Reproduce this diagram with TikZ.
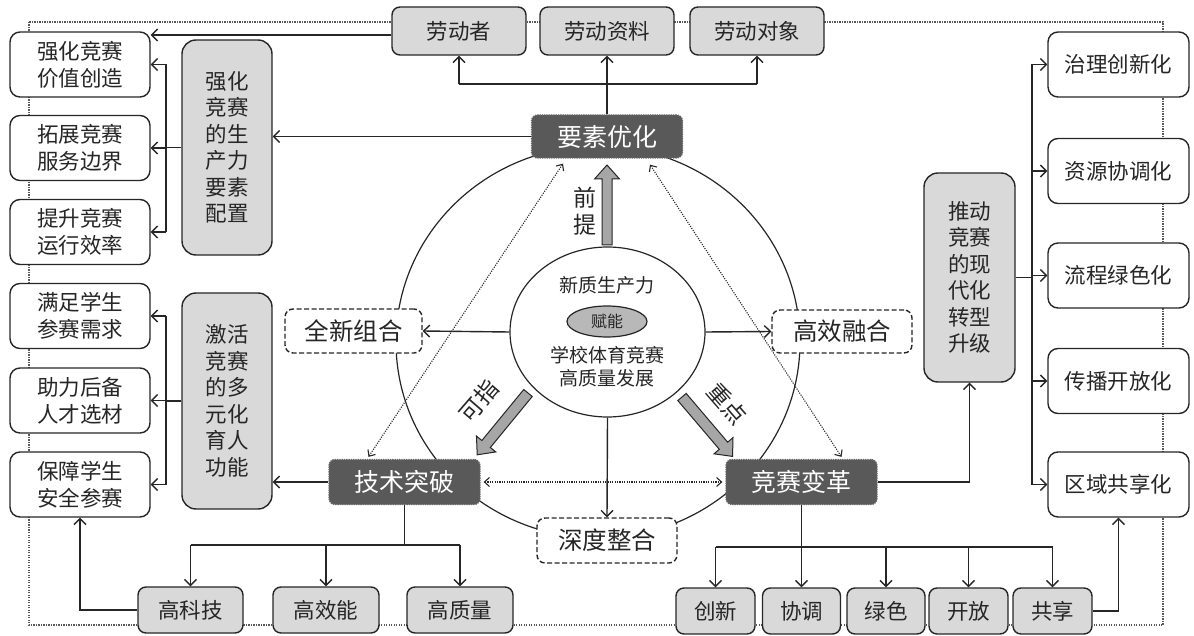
\documentclass[tikz,border=0pt]{standalone}
\usepackage{fontspec}
\newfontfamily\cjk{Noto Sans CJK SC}
\usetikzlibrary{arrows.meta,calc,shapes.geometric}
\definecolor{lg}{HTML}{D9D9D9}
\definecolor{dg}{HTML}{595959}
\definecolor{ag}{HTML}{A6A6A6}
\definecolor{ln}{HTML}{262626}
\begin{document}
\begin{tikzpicture}[x=1pt,y=-1pt,
 every node/.style={font=\cjk, text=ln},
 base/.style={draw=ln, line width=1.4pt, align=center, inner sep=0pt},
 wbox/.style={base, fill=white, rounded corners=10pt, font=\cjk\fontsize{21.5}{27}\selectfont},
 gbox/.style={base, fill=lg, rounded corners=14pt, font=\cjk\fontsize{21.5}{26.5}\selectfont},
 sbox/.style={base, fill=lg, rounded corners=8pt, font=\cjk\fontsize{21.5}{26}\selectfont},
 dbox/.style={draw=black!60, densely dotted, line width=1.3pt, fill=dg, text=white, rounded corners=6pt, font=\cjk\fontsize{25}{30}\selectfont, inner sep=0pt},
 dsh/.style={base, dash pattern=on 5pt off 2.5pt, fill=white, rounded corners=8pt, font=\cjk\fontsize{24.5}{30}\selectfont},
 lin/.style={draw=ln, line width=1.4pt},
 arr/.style={lin, -{Straight Barb[length=6pt,width=12pt]}},
 dotarr/.style={draw=ln, line width=1.1pt, dash pattern=on 1.1pt off 1.3pt, {Straight Barb[length=5pt,width=9pt]}-{Straight Barb[length=5pt,width=9pt]}},
 circ/.style={draw=ln, line width=1.2pt},
 barr/.style={draw=ln, line width=1pt, fill=ag, line join=miter},
 lab/.style={font=\cjk\fontsize{23}{27}\selectfont, align=center, inner sep=0pt}
]
\useasboundingbox (0,0) rectangle (1194,636);
% frame
\draw[draw=black!65, line width=1.3pt, dash pattern=on 1.2pt off 1.3pt] (29,22) rectangle (1163,625);
% outer ring
\draw[circ] (598,342) ellipse [x radius=202pt, y radius=196pt];

% top
\node[sbox, minimum width=134pt, minimum height=48pt] (ld) at (459,31) {劳动者};
\node[sbox, minimum width=134pt, minimum height=48pt] (lz) at (607,31) {劳动资料};
\node[sbox, minimum width=134pt, minimum height=48pt] (lo) at (757,31) {劳动对象};
\node[dbox, minimum width=151pt, minimum height=43pt] (ys) at (607,136.5) {要素优化};

% left
\node[wbox, minimum width=140pt, minimum height=65pt] (a1) at (80,64.5) {强化竞赛\\价值创造};
\node[wbox, minimum width=140pt, minimum height=65pt] (a2) at (80,148) {拓展竞赛\\服务边界};
\node[wbox, minimum width=140pt, minimum height=65pt] (a3) at (80,232) {提升竞赛\\运行效率};
\node[gbox, minimum width=90pt, minimum height=215pt] (ga) at (227,147.5) {强化\\竞赛\\的生\\产力\\要素\\配置};
\node[wbox, minimum width=140pt, minimum height=65pt] (b1) at (80,316) {满足学生\\参赛需求};
\node[wbox, minimum width=140pt, minimum height=65pt] (b2) at (80,400.5) {助力后备\\人才选材};
\node[wbox, minimum width=140pt, minimum height=65pt] (b3) at (80,484.5) {保障学生\\安全参赛};
\node[gbox, minimum width=90pt, minimum height=216pt] (gb) at (227,401) {激活\\竞赛\\的多\\元化\\育人\\功能};

% center
\node[ellipse, draw=ln, line width=1.2pt, fill=white, minimum width=195pt, minimum height=170pt, inner sep=0pt] (ce) at (607.5,332) {};
\node[font=\cjk\fontsize{19}{23}\selectfont, inner sep=0pt] (t1) at (607,285) {新质生产力};
\node[ellipse, draw=ln, line width=1.2pt, fill=ag!80, minimum width=80pt, minimum height=31pt, inner sep=0pt, font=\cjk\fontsize{16}{20}\selectfont] (fn) at (607,321.5) {赋能};
\node[font=\cjk\fontsize{19}{23}\selectfont, align=center, inner sep=0pt] (t2) at (607,366.5) {学校体育竞赛\\高质量发展};

\node[dsh, minimum width=137pt, minimum height=44pt] (qx) at (353.5,331) {全新组合};
\node[dsh, minimum width=140pt, minimum height=43pt] (gx) at (842,331.5) {高效融合};
\node[dsh, minimum width=140pt, minimum height=45pt] (sd) at (607,540.5) {深度整合};

\node[dbox, minimum width=151pt, minimum height=45pt] (jt) at (404.5,482) {技术突破};
\node[dbox, minimum width=151pt, minimum height=45pt] (jb) at (801.5,482) {竞赛变革};

% right
\node[gbox, minimum width=91pt, minimum height=209pt] (gr) at (969.5,277.5) {推动\\竞赛\\的现\\代化\\转型\\升级};
\node[wbox, minimum width=141pt, minimum height=65pt] (r1) at (1118.5,64.5) {治理创新化};
\node[wbox, minimum width=141pt, minimum height=65pt] (r2) at (1118.5,171) {资源协调化};
\node[wbox, minimum width=141pt, minimum height=65pt] (r3) at (1118.5,275.5) {流程绿色化};
\node[wbox, minimum width=141pt, minimum height=65pt] (r4) at (1118.5,381) {传播开放化};
\node[wbox, minimum width=141pt, minimum height=65pt] (r5) at (1118.5,484.5) {区域共享化};

% bottom
\node[sbox, minimum width=105pt, minimum height=46pt] (h1) at (190.5,610) {高科技};
\node[sbox, minimum width=106pt, minimum height=46pt] (h2) at (326,610) {高效能};
\node[sbox, minimum width=106pt, minimum height=46pt] (h3) at (460,610) {高质量};
\node[sbox, minimum width=79pt, minimum height=46pt] (c1) at (715.5,611) {创新};
\node[sbox, minimum width=78pt, minimum height=46pt] (c2) at (801.5,611) {协调};
\node[sbox, minimum width=78pt, minimum height=46pt] (c3) at (886,611) {绿色};
\node[sbox, minimum width=79pt, minimum height=46pt] (c4) at (968.5,611) {开放};
\node[sbox, minimum width=79pt, minimum height=46pt] (c5) at (1052.5,611) {共享};

% top bracket
\coordinate (tb) at (0,84);
\draw[lin] (ys.north) -- (ys.north |- tb);
\draw[lin] (ld.south |- tb) -- (lo.south |- tb);
\draw[arr] (ld.south |- tb) -- (ld.south);
\draw[arr] (lz.south |- tb) -- (lz.south);
\draw[arr] (lo.south |- tb) -- (lo.south);
\coordinate (ldw) at ($(ld.west)+(0,4)$);
\draw[arr] (ldw) -- (ldw -| a1.east);
\draw[arr] (ys.west) -- (ys.west -| ga.east);

% left brackets
\coordinate (lb) at (166,0);
\draw[lin] (ga.west) -- (ga.west -| lb);
\draw[lin] (a1.east -| lb) -- (a3.east -| lb);
\draw[arr] (a1.east -| lb) -- (a1.east);
\draw[arr] (a2.east -| lb) -- (a2.east);
\draw[arr] (a3.east -| lb) -- (a3.east);
\draw[lin] (gb.west) -- (gb.west -| lb);
\draw[lin] (b1.east -| lb) -- (b3.east -| lb);
\draw[arr] (b1.east -| lb) -- (b1.east);
\draw[arr] (b2.east -| lb) -- (b2.east);
\draw[arr] (b3.east -| lb) -- (b3.east);
\draw[arr] (jt.west) -- (jt.west -| gb.east);

% bottom-left bracket
\coordinate (bb1) at (0,545);
\draw[lin] (jt.south) -- (jt.south |- bb1);
\draw[lin] (h1.north |- bb1) -- (h3.north |- bb1);
\draw[arr] (h1.north |- bb1) -- (h1.north);
\draw[arr] (h2.north |- bb1) -- (h2.north);
\draw[arr] (h3.north |- bb1) -- (h3.north);
\draw[arr] (h1.west) -| (b3.south);

% bottom-right bracket
\coordinate (bb2) at (0,547);
\draw[lin] (jb.south) -- (jb.south |- bb2);
\draw[lin] (c1.north |- bb2) -- (c5.north |- bb2);
\draw[arr] (c1.north |- bb2) -- (c1.north);
\draw[arr] (c2.north |- bb2) -- (c2.north);
\draw[arr] (c3.north |- bb2) -- (c3.north);
\draw[arr] (c4.north |- bb2) -- (c4.north);
\draw[arr] (c5.north |- bb2) -- (c5.north);
\draw[arr] (c5.east) -| (r5.south);
\draw[arr] (jb.east) -| (gr.south);

% right bracket
\coordinate (rb) at (1032,0);
\draw[lin] (gr.east) -- (gr.east -| rb);
\draw[lin] (r1.west -| rb) -- (r5.west -| rb);
\draw[arr] (r1.west -| rb) -- (r1.west);
\draw[arr] (r2.west -| rb) -- (r2.west);
\draw[arr] (r3.west -| rb) -- (r3.west);
\draw[arr] (r4.west -| rb) -- (r4.west);
\draw[arr] (r5.west -| rb) -- (r5.west);

% center arrows
\draw[arr] (ce.west) -- (qx.east);
\draw[arr] (ce.east) -- (gx.west);
\draw[arr] (ce.south) -- (sd.north);

% dotted links
\draw[dotarr] ($(ys.south)+(-44,5)$) -- ($(jt.north)+(-36,-2)$);
\draw[dotarr] ($(ys.south)+(43,6)$) -- ($(jb.north)+(40,-2)$);
\draw[dotarr] ($(jt.east)+(3,0)$) -- ($(jb.west)+(-3,0)$);

% block arrows
\begin{scope}[shift={(607,245)}, rotate=90]
\draw[barr] (0,-5) -- (66,-5) -- (66,-12.5) -- (80,0) -- (66,12.5) -- (66,5) -- (0,5) -- cycle;
\end{scope}
\begin{scope}[shift={(682,397)}, rotate=-49.6]
\draw[barr] (0,-5.5) -- (64,-5.5) -- (64,-12.5) -- (78,0) -- (64,12.5) -- (64,5.5) -- (0,5.5) -- cycle;
\end{scope}
\begin{scope}[shift={(528,393)}, rotate=-129.4]
\draw[barr] (0,-5.5) -- (66,-5.5) -- (66,-12.5) -- (80,0) -- (66,12.5) -- (66,5.5) -- (0,5.5) -- cycle;
\end{scope}
\node[lab] (lq) at (585,211) {前\\提};
\node[lab, rotate=-49] (lzd) at (727,404) {重点};
\node[lab, rotate=49] (lzy) at (479,401) {可指};
\end{tikzpicture}
\end{document}
